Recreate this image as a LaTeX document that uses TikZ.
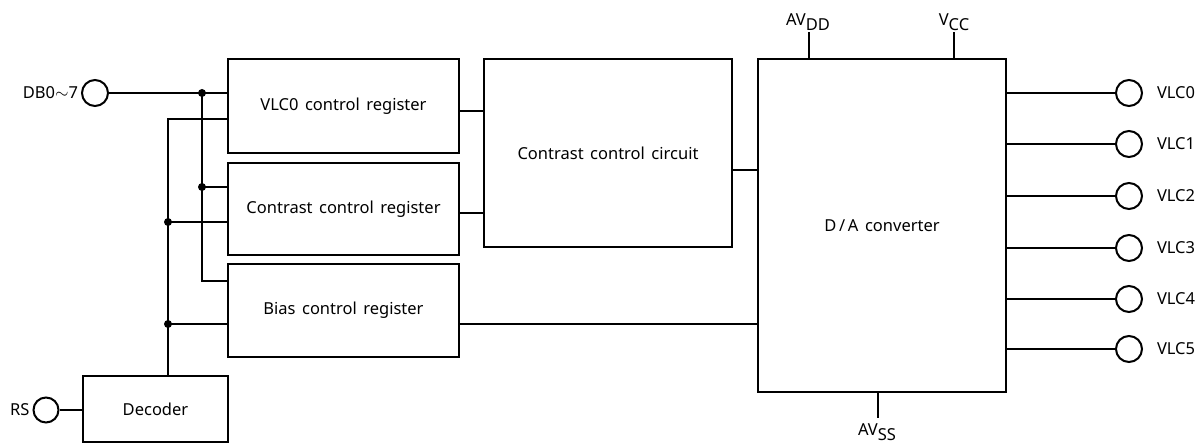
\documentclass[tikz,border=0pt]{standalone}
\usepackage{fontspec}
\setmainfont{Noto Sans}
\newcommand{\myfont}{\fontsize{16.5}{19}\selectfont\spaceskip=6.5pt plus 1pt}
\begin{document}
\begin{tikzpicture}[x=1pt,y=-1pt,line width=2pt,
  blk/.style={draw,rectangle,inner sep=0pt,font=\myfont},
  pin/.style={draw,circle,inner sep=0pt,minimum size=26pt},
  lbl/.style={font=\myfont,inner sep=0pt},
  dot/.style={circle,fill,inner sep=0pt,minimum size=8pt}]
\useasboundingbox (0,0) rectangle (1197,443);
% blocks
\node[blk,minimum width=231pt,minimum height=94pt] (vreg) at (343.5,106) {VLC0 control register};
\node[blk,minimum width=231pt,minimum height=92pt] (creg) at (343.5,209) {Contrast control register};
\node[blk,minimum width=231pt,minimum height=93pt] (breg) at (343.5,310.5) {Bias control register};
\node[blk,minimum width=145pt,minimum height=66pt] (dec) at (155.5,409) {Decoder};
\node[blk,minimum width=248pt,minimum height=188pt] (ccc) at (608,153) {Contrast control circuit};
\node[blk,minimum width=248pt,minimum height=333pt] (da) at (882,225.5) {D\,/\,A converter};
% pins
\node[pin,label={[lbl,label distance=2pt]left:DB0$\sim$7}] (db) at (95,93) {};
\node[pin,minimum size=25pt,label={[lbl,label distance=2pt]left:RS}] (rs) at (46,410) {};
\foreach \i/\y in {0/93,1/144,2/196,3/248,4/299,5/349}{
  \node[pin,label={[lbl,label distance=13pt]right:VLC\i}] (v\i) at (1129,\y) {};
  \draw (da.east |- v\i) -- (v\i.west);
}
% junctions
\coordinate (ja) at (202,93);
\coordinate (jb) at (202,187);
\coordinate (jc) at (202,281);
\coordinate (jd) at (168,119);
\coordinate (je) at (168,222);
\coordinate (jf) at (168,324);
\draw (db.east) -- (vreg.west |- db);
\draw (ja) -- (jc) -- (breg.west |- jc);
\draw (jb) -- (creg.west |- jb);
\draw (dec.north -| jd) -- (jd) -- (vreg.west |- jd);
\draw (je) -- (creg.west |- je);
\draw (jf) -- (breg.west |- jf);
\node[dot] at (ja) {};
\node[dot] at (jb) {};
\node[dot] at (je) {};
\node[dot] at (jf) {};
\draw (rs.east) -- (dec.west |- rs);
% register outputs
\coordinate (o1) at (459,111);
\coordinate (o2) at (459,213);
\coordinate (o3) at (732,170);
\draw (o1) -- (ccc.west |- o1);
\draw (o2) -- (ccc.west |- o2);
\draw (o3) -- (da.west |- o3);
\draw (breg.east |- jf) -- (da.west |- jf);
% power
\coordinate (pdd) at (809,32);
\coordinate (pcc) at (954,32);
\coordinate (pss) at (878,418);
\draw (da.north -| pdd) -- (pdd);
\draw (da.north -| pcc) -- (pcc);
\draw (da.south -| pss) -- (pss);
\node[lbl] (tdd) at (808,22) {AV\raisebox{-5pt}{DD}};
\node[lbl] (tcc) at (954,22) {V\raisebox{-5pt}{CC}};
\node[lbl] (tss) at (877,432) {AV\raisebox{-5pt}{SS}};
\end{tikzpicture}
\end{document}
